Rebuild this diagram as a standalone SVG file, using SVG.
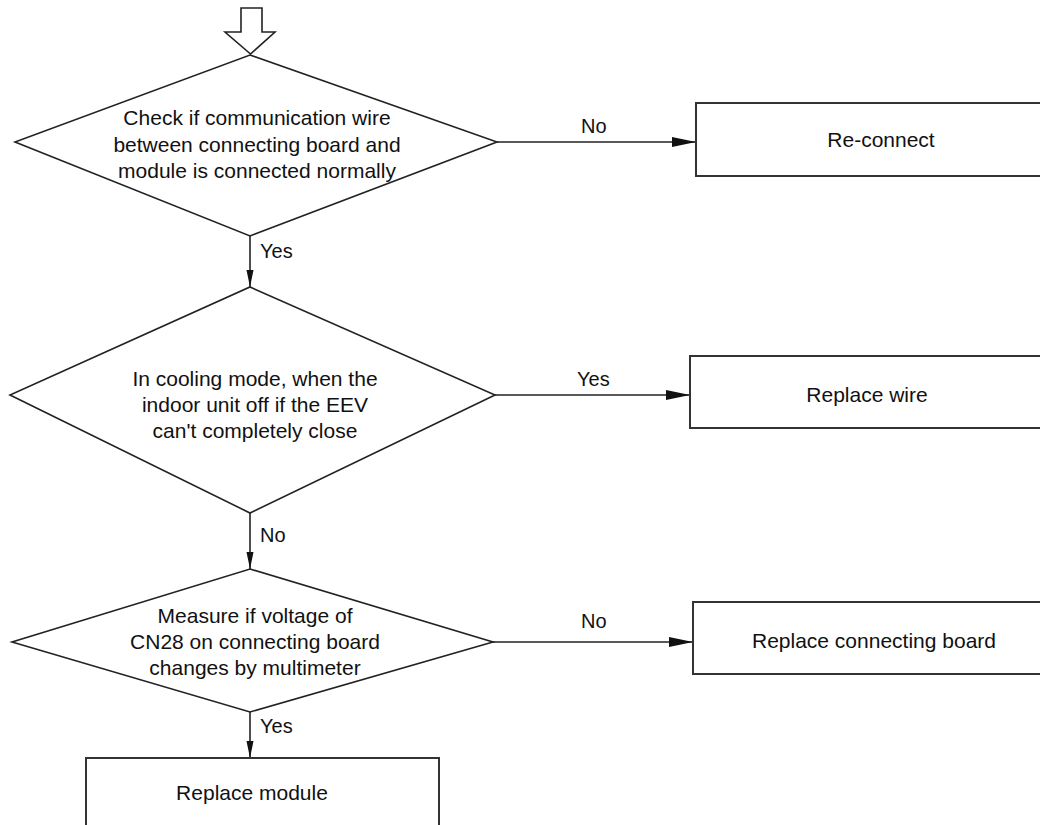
<svg xmlns="http://www.w3.org/2000/svg" width="1040" height="825" viewBox="0 0 1040 825">
<style>
.shape{fill:#fff;stroke:#222;stroke-width:1.6}
.box{fill:#fff;stroke:#333;stroke-width:2}
.t{font-family:"Liberation Sans",Arial,sans-serif;font-size:21px;fill:#111;text-anchor:middle}
.lbl{font-family:"Liberation Sans",Arial,sans-serif;font-size:20px;fill:#111}
.conn{stroke:#222;stroke-width:1.6;fill:none}
</style>
<defs>
<marker id="ah" markerUnits="userSpaceOnUse" markerWidth="26" markerHeight="12" refX="24" refY="5" orient="auto">
<path d="M0,0 L24,5 L0,10 Z" fill="#111"/>
</marker>
<marker id="av" markerUnits="userSpaceOnUse" markerWidth="18" markerHeight="8" refX="17" refY="3.5" orient="auto">
<path d="M0,0 L17,3.5 L0,7 Z" fill="#111"/>
</marker>
</defs>
<g id="start">
<polygon class="shape" points="241,8 262,8 262,32 275,32 250.5,54 225,32 241,32"/>
</g>
<g id="connectors">
<line class="conn" x1="497" y1="142" x2="696" y2="142" marker-end="url(#ah)"/>
<line class="conn" x1="495" y1="395" x2="690" y2="395" marker-end="url(#ah)"/>
<line class="conn" x1="493" y1="642" x2="693" y2="642" marker-end="url(#ah)"/>
<line class="conn" x1="250" y1="236" x2="250" y2="287" marker-end="url(#av)"/>
<line class="conn" x1="250" y1="513" x2="250" y2="569" marker-end="url(#av)"/>
<line class="conn" x1="250" y1="712" x2="250" y2="758" marker-end="url(#av)"/>
<text class="lbl" x="581" y="133">No</text>
<text class="lbl" x="577" y="386">Yes</text>
<text class="lbl" x="581" y="628">No</text>
<text class="lbl" x="260" y="258">Yes</text>
<text class="lbl" x="260" y="542">No</text>
<text class="lbl" x="260" y="733">Yes</text>
</g>
<g id="d1">
<polygon class="shape" points="250,55 497,142 250,236 15,142"/>
<text class="t" x="257" y="125">Check if communication wire</text>
<text class="t" x="257" y="152">between connecting board and</text>
<text class="t" x="257" y="178">module is connected normally</text>
</g>
<g id="r1">
<rect class="box" x="696" y="103" width="380" height="73"/>
<text class="t" x="881" y="147">Re-connect</text>
</g>
<g id="d2">
<polygon class="shape" points="250,287 495,395 250,513 10,395"/>
<text class="t" x="255" y="386">In cooling mode, when the</text>
<text class="t" x="255" y="412">indoor unit off if the EEV</text>
<text class="t" x="255" y="438">can't completely close</text>
</g>
<g id="r2">
<rect class="box" x="690" y="356" width="380" height="72"/>
<text class="t" x="867" y="402">Replace wire</text>
</g>
<g id="d3">
<polygon class="shape" points="250,569 493,642 250,712 12,642"/>
<text class="t" x="255" y="623">Measure if voltage of</text>
<text class="t" x="255" y="649">CN28 on connecting board</text>
<text class="t" x="255" y="675">changes by multimeter</text>
</g>
<g id="r3">
<rect class="box" x="693" y="602" width="380" height="72"/>
<text class="t" x="874" y="648">Replace connecting board</text>
</g>
<g id="r4">
<rect class="box" x="86" y="758" width="353" height="90"/>
<text class="t" x="252" y="800">Replace module</text>
</g>
</svg>
